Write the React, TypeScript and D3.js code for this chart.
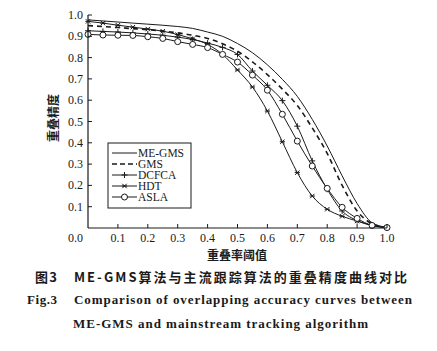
import React from 'react'
import * as d3 from 'd3'

const thresholds = [0, 0.05, 0.1, 0.15, 0.2, 0.25, 0.3, 0.35, 0.4, 0.45, 0.5, 0.55, 0.6, 0.65, 0.7, 0.75, 0.8, 0.85, 0.9, 0.95, 1.0]
const meGms = [0.977, 0.972, 0.967, 0.962, 0.957, 0.952, 0.946, 0.937, 0.92, 0.9, 0.866, 0.823, 0.766, 0.698, 0.618, 0.51, 0.385, 0.245, 0.115, 0.025, 0.003]
const gms = [0.95, 0.946, 0.941, 0.936, 0.931, 0.925, 0.916, 0.905, 0.89, 0.865, 0.83, 0.78, 0.72, 0.652, 0.575, 0.47, 0.35, 0.2, 0.08, 0.02, 0.002]
const dcfca = [0.926, 0.923, 0.92, 0.916, 0.911, 0.905, 0.896, 0.885, 0.868, 0.848, 0.815, 0.737, 0.67, 0.598, 0.478, 0.315, 0.182, 0.08, 0.035, 0.012, 0.002]
const hdt = [0.97, 0.962, 0.952, 0.943, 0.934, 0.924, 0.908, 0.888, 0.862, 0.815, 0.742, 0.662, 0.549, 0.405, 0.26, 0.15, 0.088, 0.055, 0.033, 0.012, 0.002]
const asla = [0.909, 0.906, 0.905, 0.904, 0.898, 0.89, 0.875, 0.862, 0.847, 0.815, 0.779, 0.718, 0.647, 0.534, 0.408, 0.291, 0.186, 0.097, 0.045, 0.012, 0.002]
const xTicks = [0.1, 0.2, 0.3, 0.4, 0.5, 0.6, 0.7, 0.8, 0.9, 1.0]
const yTicks = [0.1, 0.2, 0.3, 0.4, 0.5, 0.6, 0.7, 0.8, 0.9, 1.0]

const seriesNames = ['ME-GMS', 'GMS', 'DCFCA', 'HDT', 'ASLA']
const seriesData = [meGms, gms, dcfca, hdt, asla]
const markerOf = ['none', 'none', 'plus', 'cross', 'circle']

const W = 437
const H = 351
const INK = '#1a1a1a'
const SERIF = '"Liberation Serif", "Times New Roman", serif'
const CJK = '"Noto Sans CJK SC", sans-serif'

function Marker({ kind, x, y }: { kind: string; x: number; y: number }) {
  if (kind === 'plus') {
    return <path d={`M${x - 3},${y}H${x + 3}M${x},${y - 3}V${y + 3}`} stroke={INK} strokeWidth={1} />
  }
  if (kind === 'cross') {
    return <path d={`M${x - 2.2},${y - 2.2}L${x + 2.2},${y + 2.2}M${x - 2.2},${y + 2.2}L${x + 2.2},${y - 2.2}M${x - 2.6},${y}H${x + 2.6}`} stroke={INK} strokeWidth={1} />
  }
  if (kind === 'circle') {
    return <circle cx={x} cy={y} r={3} fill="#fff" stroke={INK} strokeWidth={1} />
  }
  return null
}

export default function App() {
  const x = d3.scaleLinear().domain([0, 1]).range([88, 387])
  const y = d3.scaleLinear().domain([0, 1]).range([228, 15])

  const line = d3.line<number>()
    .x((_, i) => x(thresholds[i]))
    .y(d => y(d))
    .curve(d3.curveMonotoneX)

  const legendY = (i: number) => 153 + i * 11

  return (
    <svg width={W} height={H} style={{ position: 'absolute', left: 0, top: 0, background: '#fff' }}>
      <rect width={W} height={H} fill="#fff" />

      {/* curves */}
      {seriesData.map((s, k) => (
        <path key={k} d={line(s) || ''} fill="none" stroke={INK} strokeWidth={k === 1 ? 1.6 : 1}
          strokeDasharray={k === 1 ? '5,4' : undefined} />
      ))}
      {seriesData.map((s, k) => s.map((v, i) => (
        <Marker key={`${k}-${i}`} kind={markerOf[k]} x={x(thresholds[i])} y={y(v)} />
      )))}

      {/* axes */}
      <line x1={x(0)} x2={x(1)} y1={y(0)} y2={y(0)} stroke={INK} strokeWidth={1.2} />
      <line x1={x(0)} x2={x(0)} y1={y(0)} y2={y(1)} stroke={INK} strokeWidth={1.2} />
      {xTicks.map(t => (
        <g key={`x${t}`}>
          <line x1={x(t)} x2={x(t)} y1={y(0)} y2={y(0) - 4} stroke={INK} />
          <text x={x(t)} y={y(0) + 14} textAnchor="middle" fontFamily={SERIF} fontSize={12} fill={INK}>{t.toFixed(1)}</text>
        </g>
      ))}
      {yTicks.map(t => (
        <g key={`y${t}`}>
          <line x1={x(0)} x2={x(0) + 4} y1={y(t)} y2={y(t)} stroke={INK} />
          <text x={x(0) - 5} y={y(t) + 4} textAnchor="end" fontFamily={SERIF} fontSize={12} fill={INK}>{t.toFixed(1)}</text>
        </g>
      ))}
      <text x={x(0) - 5} y={y(0) + 14} textAnchor="end" fontFamily={SERIF} fontSize={12} fill={INK}>0.0</text>

      {/* axis titles */}
      <text x={237} y={260} textAnchor="middle" fontFamily={CJK} fontWeight="bold" fontSize={12} fill={INK}>重叠率阈值</text>
      <text transform="translate(58,118) rotate(-90)" textAnchor="middle" fontFamily={CJK} fontWeight="bold" fontSize={12} fill={INK}>重叠精度</text>

      {/* legend */}
      <rect x={108} y={143} width={83} height={65} fill="#fff" stroke={INK} strokeWidth={1} />
      {seriesNames.map((n, i) => (
        <g key={n}>
          <line x1={112} x2={137} y1={legendY(i)} y2={legendY(i)} stroke={INK} strokeWidth={i === 1 ? 1.6 : 1}
            strokeDasharray={i === 1 ? '5,3' : undefined} />
          <Marker kind={markerOf[i]} x={124.5} y={legendY(i)} />
          <text x={138} y={legendY(i) + 4} fontFamily={SERIF} fontSize={11.5} fill={INK}>{n}</text>
        </g>
      ))}

      {/* caption */}
      <text x={35} y={282} fontFamily={CJK} fontWeight="bold" fontSize={13} fill={INK} textLength={22} lengthAdjust="spacing">图 3</text>
      <text x={74} y={282} fontFamily={CJK} fontWeight="bold" fontSize={13} fill={INK} textLength={333} lengthAdjust="spacing">ME-GMS算法与主流跟踪算法的重叠精度曲线对比</text>
      <text x={27} y={304} fontFamily={SERIF} fontWeight="bold" fontSize={13} fill={INK} textLength={30} lengthAdjust="spacing">Fig.3</text>
      <text x={74} y={304} fontFamily={SERIF} fontWeight="bold" fontSize={13} fill={INK} textLength={338} lengthAdjust="spacing">Comparison of overlapping accuracy curves between</text>
      <text x={73} y={328} fontFamily={SERIF} fontWeight="bold" fontSize={13} fill={INK} textLength={295} lengthAdjust="spacing">ME-GMS and mainstream tracking algorithm</text>
    </svg>
  )
}
